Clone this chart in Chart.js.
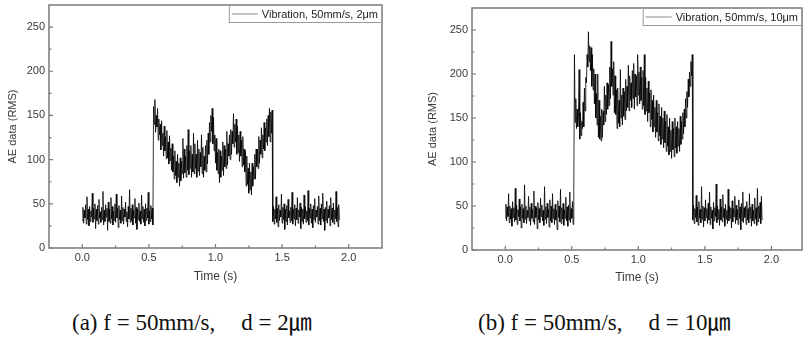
<!DOCTYPE html>
<html>
<head>
<meta charset="utf-8">
<script src="https://cdn.jsdelivr.net/npm/chart.js@4.4.1/dist/chart.umd.min.js"></script>
<style>
  html, body { margin:0; padding:0; background:#fff; width:803px; height:339px; overflow:hidden; }
  body { position:relative; }
  .wrap { position:absolute; top:0; height:290px; }
  #wa { left:0; width:400px; }
  #wb { left:420px; width:383px; }
  .cap { position:absolute; top:308px; font-family:"Liberation Serif","Times New Roman",serif; font-size:23px; line-height:25px; color:#111; white-space:nowrap; }
  .cap .gap { display:inline-block; width:26px; }
  .cap .u { font-family:"Noto Sans CJK KR","Noto Sans CJK SC",serif; font-size:23px; }
  #ca { left:72px; }
  #cb { left:478px; }
</style>
</head>
<body>
<div class="wrap" id="wa"><canvas id="chartA"></canvas></div>
<div class="wrap" id="wb"><canvas id="chartB"></canvas></div>
<div class="cap" id="ca"></div>
<div class="cap" id="cb"></div>
<script>
// ---------- data ----------
const sampleStep = 0.005; // s between recorded RMS samples (starting at t = 0)
const labelA = 'Vibration, 50mm/s, 2\u03bcm';
const labelB = 'Vibration, 50mm/s, 10\u03bcm';
const xTitle = 'Time (s)';
const yTitle = 'AE data (RMS)';
const xTickValues = [0, 0.5, 1.0, 1.5, 2.0];
const yTickValues = [0, 50, 100, 150, 200, 250];
const captionA = ['(a) f = 50mm/s,', 'd = 2', '\u339b'];
const captionB = ['(b) f = 50mm/s,', 'd = 10', '\u339b'];

// (a) 2 um : t = 0.000 ... 1.930
const aeA = [
  31,46,28,43,34,49,27,58,32,44,25,47,30,42,35,62,29,45,33,50,
  22,44,31,48,27,55,34,41,29,46,32,64,26,43,30,49,35,45,20,52,
  30,44,28,57,33,47,26,42,31,50,29,61,34,45,23,48,32,43,28,59,
  31,46,27,44,35,52,30,41,24,47,33,66,29,45,31,49,26,43,34,56,
  28,46,21,44,32,51,30,42,27,60,33,47,29,44,25,50,31,45,34,63,
  27,42,30,48,33,45,26,
  160,140,168,131,150,137,158,122,146,128,140,111,144,116,130,104,138,110,126,101,
  133,102,120,95,127,99,113,88,118,86,104,78,110,82,98,74,106,80,96,70,
  102,76,98,84,124,79,112,85,104,80,116,88,134,83,110,90,116,80,106,86,
  130,84,118,90,106,80,122,87,112,82,108,92,128,84,114,80,104,88,116,86,
  122,95,130,106,142,120,150,132,158,118,148,110,128,96,124,88,108,84,112,74,
  110,80,104,88,120,82,116,92,112,90,132,94,118,104,128,100,134,106,132,118,
  152,114,140,120,146,106,138,108,128,98,132,104,122,92,126,94,112,86,110,70,
  104,72,90,62,96,66,86,60,96,70,92,78,106,78,112,92,112,90,126,96,
  122,106,136,102,128,112,142,110,136,120,146,116,150,126,158,120,154,130,156,
  30,47,27,44,33,58,29,45,24,49,31,43,35,61,28,46,32,50,21,44,
  30,48,26,55,34,42,29,46,31,63,27,44,33,49,25,45,32,57,28,43,
  35,51,22,46,30,44,27,60,33,47,29,42,31,65,26,45,34,50,28,44,
  23,48,32,56,29,43,35,47,27,59,31,45,26,50,33,62,30,44,20,46,
  31,53,28,44,34,48,25,57,32,45,29,51,27,43,33,64,30,46,24,49,
  32
];

// (b) 10 um : t = 0.000 ... 1.930
const aeB = [
  36,52,33,49,38,64,31,50,35,47,27,55,37,48,32,70,34,51,29,46,
  38,58,33,49,25,52,36,47,31,74,35,50,30,45,37,61,33,49,28,53,
  36,46,32,67,29,50,37,48,24,54,34,47,31,59,38,51,33,45,28,72,
  35,49,30,53,37,46,26,57,33,50,31,64,36,47,29,52,34,45,23,56,
  37,50,32,69,30,48,35,53,28,46,36,60,33,49,27,51,34,66,31,47,
  36,55,29,68,
  222,145,172,138,160,140,152,205,126,156,130,146,138,168,140,184,158,196,190,222,
  208,248,214,232,204,230,186,222,182,206,166,200,150,178,142,200,128,170,126,152,
  124,160,128,158,142,186,146,176,154,190,160,188,164,208,172,237,186,206,176,214,
  156,198,154,182,138,184,144,170,140,205,150,176,142,184,152,180,148,194,158,186,
  162,210,158,198,170,190,162,204,172,212,160,200,174,198,164,222,176,202,166,208,
  170,196,160,204,164,222,154,196,158,184,146,192,156,178,140,182,148,170,134,176,
  140,162,128,170,134,156,124,166,130,152,120,162,126,150,116,158,122,146,112,154,
  118,140,108,150,112,136,104,146,114,138,106,150,116,140,110,146,118,138,112,152,
  120,146,126,156,132,160,140,172,150,180,162,194,174,202,186,214,198,222,
  34,51,30,47,37,62,32,49,28,55,36,46,31,72,35,50,26,48,33,57,
  37,47,30,53,34,66,29,49,36,45,24,54,33,48,38,75,31,50,35,46,
  28,58,34,49,32,63,37,47,27,52,35,45,30,69,33,50,36,48,25,56,
  32,47,38,61,30,51,34,46,29,57,36,49,23,53,33,66,31,48,37,50,
  29,55,34,47,31,64,36,49,27,52,33,45,30,59,35,48,28,70,32,50,
  36,54,30,61,34
];

// ---------- drawing ----------
const AXIS = '#7a7a7a';
const TEXT = '#3a3a3a';

const framePlugin = {
  id: 'originFrame',
  afterDatasetsDraw(chart) {
    const {ctx, chartArea: a, scales: {x, y}} = chart;
    ctx.save();
    ctx.strokeStyle = AXIS;
    ctx.lineWidth = 1.5;
    ctx.strokeRect(a.left, a.top, a.right - a.left, a.bottom - a.top);
    ctx.lineWidth = 1.2;
    ctx.beginPath();
    xTickValues.forEach((v, i) => {
      const px = x.getPixelForValue(v);
      ctx.moveTo(px, a.bottom); ctx.lineTo(px, a.bottom - 4);
      if (i < xTickValues.length - 1) {
        const mx = x.getPixelForValue((v + xTickValues[i + 1]) / 2);
        ctx.moveTo(mx, a.bottom); ctx.lineTo(mx, a.bottom - 2.5);
      }
    });
    yTickValues.forEach((v, i) => {
      const py = y.getPixelForValue(v);
      ctx.moveTo(a.left, py); ctx.lineTo(a.left + 4, py);
      const nv = i < yTickValues.length - 1 ? yTickValues[i + 1] : v + (v - yTickValues[i - 1]);
      const mv = (v + nv) / 2;
      if (mv < y.max) {
        const my = y.getPixelForValue(mv);
        ctx.moveTo(a.left, my); ctx.lineTo(a.left + 2.5, my);
      }
    });
    ctx.stroke();

    // legend box in the top-right corner of the plot
    const label = chart.data.datasets[0].label;
    ctx.font = '11px "Liberation Sans", Arial, sans-serif';
    const tw = ctx.measureText(label).width;
    const h = 18, lineLen = 26;
    const w = 3 + lineLen + 4 + tw + 4;
    const bx = a.right - w, by = a.top;
    ctx.fillStyle = '#fff';
    ctx.fillRect(bx, by, w, h);
    ctx.strokeStyle = '#9a9a9a';
    ctx.lineWidth = 1;
    ctx.strokeRect(bx + 0.5, by + 0.5, w - 1, h - 1);
    ctx.strokeStyle = '#8a8a8a';
    ctx.beginPath();
    ctx.moveTo(bx + 3, by + h / 2); ctx.lineTo(bx + 3 + lineLen, by + h / 2);
    ctx.stroke();
    ctx.fillStyle = '#222';
    ctx.textBaseline = 'middle';
    ctx.textAlign = 'left';
    ctx.fillText(label, bx + 3 + lineLen + 4, by + h / 2 + 0.5);
    ctx.restore();
  }
};

function makeChart(id, values, label, lay) {
  const points = values.map((v, i) => ({ x: i * sampleStep, y: v }));
  return new Chart(document.getElementById(id), {
    type: 'line',
    data: { datasets: [{
      label: label,
      data: points,
      borderColor: 'rgba(0,0,0,0.8)',
      borderWidth: 1,
      pointRadius: 0,
      tension: 0,
      fill: false
    }]},
    options: {
      responsive: true,
      maintainAspectRatio: false,
      animation: false,
      events: [],
      layout: { padding: { left: 0, top: lay.top, right: lay.right, bottom: 0 } },
      plugins: { legend: { display: false }, tooltip: { enabled: false } },
      scales: {
        x: {
          type: 'linear',
          min: -0.25, max: lay.xMax,
          grid: { display: false, drawTicks: false },
          border: { display: false },
          afterBuildTicks: s => { s.ticks = xTickValues.map(v => ({ value: v })); },
          afterFit: s => { s.height = lay.xh; s.paddingLeft = 0; s.paddingRight = 0; },
          ticks: {
            color: TEXT, padding: 3, maxRotation: 0, autoSkip: false,
            font: { family: '"Liberation Sans", Arial, sans-serif', size: 11 },
            callback: v => Number(v).toFixed(1)
          },
          title: {
            display: true, text: xTitle, color: TEXT,
            font: { family: '"Liberation Sans", Arial, sans-serif', size: 12 },
            padding: { top: 0, bottom: lay.xtb }
          }
        },
        y: {
          type: 'linear',
          min: 0, max: 275,
          grid: { display: false, drawTicks: false },
          border: { display: false },
          afterBuildTicks: s => { s.ticks = yTickValues.map(v => ({ value: v })); },
          afterFit: s => { s.width = lay.yw; s.paddingTop = 0; s.paddingBottom = 0; },
          ticks: {
            color: TEXT, padding: 4, autoSkip: false,
            font: { family: '"Liberation Sans", Arial, sans-serif', size: 11 }
          },
          title: {
            display: true, text: yTitle, color: TEXT,
            font: { family: '"Liberation Sans", Arial, sans-serif', size: 11 },
            padding: { top: 6, bottom: 0 }
          }
        }
      }
    },
    plugins: [framePlugin]
  });
}

makeChart('chartA', aeA, labelA, { top: 5, right: 18, xh: 42, yw: 49, xMax: 2.25, xtb: 6 });
makeChart('chartB', aeB, labelB, { top: 8, right: 1, xh: 40, yw: 52, xMax: 2.23, xtb: 5 });

function fillCaption(el, parts) {
  el.appendChild(document.createTextNode(parts[0]));
  const g = document.createElement('span'); g.className = 'gap'; el.appendChild(g);
  el.appendChild(document.createTextNode(parts[1]));
  const u = document.createElement('span'); u.className = 'u'; u.textContent = parts[2]; el.appendChild(u);
}
fillCaption(document.getElementById('ca'), captionA);
fillCaption(document.getElementById('cb'), captionB);
</script>
</body>
</html>
